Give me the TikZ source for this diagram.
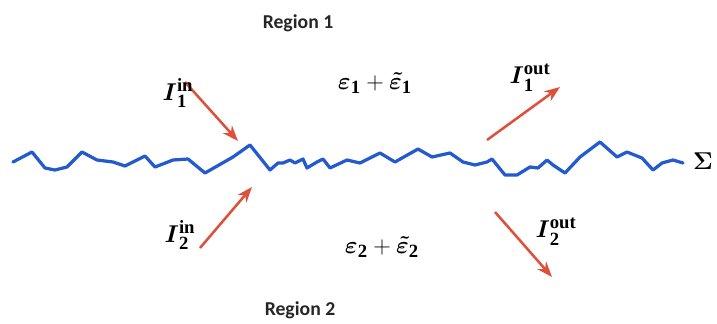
\documentclass[tikz,border=0pt]{standalone}
\usepackage{amsmath}
\usepackage{amssymb}
\usepackage{fontspec}
\setmainfont{Liberation Serif}
\newfontfamily\regionfont{Carlito}
\usepackage{tikz}
\usetikzlibrary{arrows.meta,positioning,calc}

\definecolor{wavecol}{RGB}{35,90,205}
\definecolor{raycol}{RGB}{222,80,60}

\begin{document}
\begin{tikzpicture}[x=0.025cm, y=-0.025cm, >=Stealth,
  lab/.style={inner sep=1pt, font=\fontsize{19}{21}\selectfont},
  reg/.style={inner sep=1pt, font=\regionfont\bfseries\fontsize{14}{16}\selectfont, text=black!85},
  ray/.style={->, raycol, line width=1.8pt}]
  \useasboundingbox (0,0) rectangle (717,323);

  % rough interface Sigma
  \draw[wavecol, line width=2.3pt, line join=round, line cap=round] plot coordinates {
    (13,162) (32,152) (45,168) (55,170) (67,167) (82,152) (97,160) (113,162)
    (125,166) (145,156) (155,167) (173,160) (188,159) (205,173) (233,157)
    (250,145) (270,170) (278,163) (283,163) (290,160) (295,163) (303,159)
    (307,168) (317,162) (323,159) (330,168) (347,160) (360,163) (380,153)
    (395,162) (418,149) (432,157) (450,153) (463,162) (475,165) (487,162)
    (492,159) (505,175) (517,175) (530,167) (538,168) (547,160) (553,165)
    (565,173) (580,157) (600,142) (617,157) (627,152) (642,158) (653,170)
    (662,163) (673,160) (683,163)};
  \node[lab] (Sig) at (703,161) {$\boldsymbol{\Sigma}$};

  % regions and permittivities
  \node[reg] (R1) at (298,23) {Region 1};
  \node[reg] (R2) at (300,310) {Region 2};
  \node[lab] (E1) at (375,83) {$\boldsymbol{\varepsilon}_{\mathbf 1}+\boldsymbol{\tilde{\varepsilon}}_{\mathbf 1}$};
  \node[lab] (E2) at (382,247) {$\boldsymbol{\varepsilon}_{\mathbf 2}+\boldsymbol{\tilde{\varepsilon}}_{\mathbf 2}$};

  % incident and outgoing waves
  \coordinate (In1a) at (185,82);
  \coordinate (In1b) at (238,141);
  \coordinate (In2a) at (200,248);
  \coordinate (In2b) at (252,187);
  \coordinate (Out1a) at (487,140);
  \coordinate (Out1b) at (560,87);
  \coordinate (Out2a) at (495,212);
  \coordinate (Out2b) at (552,277);
  \draw[ray] (In1a) -- (In1b);
  \draw[ray] (In2a) -- (In2b);
  \draw[ray] (Out1a) -- (Out1b);
  \draw[ray] (Out2a) -- (Out2b);

  \node[lab] (I1in) at (178,93) {$\boldsymbol{I}_{\mathbf 1}^{\textbf{in}}$};
  \node[lab] (I2in) at (180,235) {$\boldsymbol{I}_{\mathbf 2}^{\textbf{in}}$};
  \node[lab] (I1out) at (530,78) {$\boldsymbol{I}_{\mathbf 1}^{\textbf{out}}$};
  \node[lab] (I2out) at (556,232) {$\boldsymbol{I}_{\mathbf 2}^{\textbf{out}}$};
\end{tikzpicture}
\end{document}
